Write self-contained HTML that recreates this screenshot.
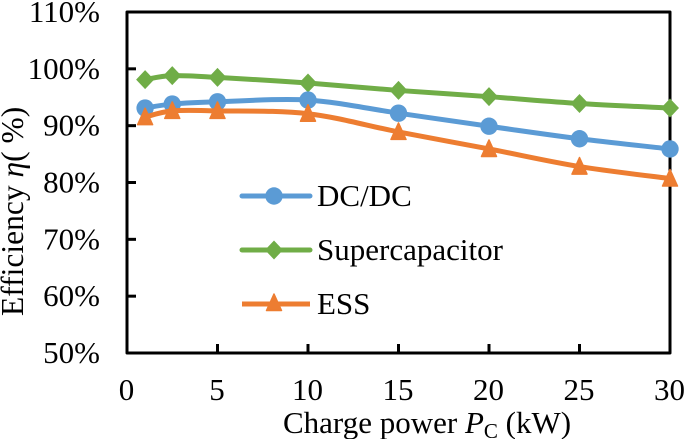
<!DOCTYPE html>
<html lang="en">
<head>
<meta charset="utf-8">
<title>Efficiency vs charge power</title>
<style>
html,body{margin:0;padding:0;background:#fff}
svg{display:block}
text{font-family:"Liberation Serif",serif;fill:#000}
</style>
</head>
<body>
<svg id="chart" width="685" height="439" viewBox="0 0 685 439" xmlns="http://www.w3.org/2000/svg"></svg>
<script>
const categories = [1, 2.5, 5, 10, 15, 20, 25, 30];
const dcdcValues = [93.1, 93.8, 94.2, 94.5, 92.2, 89.9, 87.7, 85.9];
const supercapValues = [98.1, 98.8, 98.5, 97.5, 96.2, 95.1, 93.9, 93.1];
const essValues = [91.5, 92.6, 92.6, 92.1, 88.9, 85.9, 82.8, 80.7];
const xTickLabels = [0, 5, 10, 15, 20, 25, 30];
const yTickLabels = [50, 60, 70, 80, 90, 100, 110];
const seriesNames = ["DC/DC", "Supercapacitor", "ESS"];

const svg = document.getElementById('chart');
const NS = 'http://www.w3.org/2000/svg';
const L = 127, R = 670, T = 12, B = 353;
const sx = v => L + (v - 0) / 30 * (R - L);
const sy = v => B - (v - 50) / 60 * (B - T);

function make(tag, attrs, parent) {
  const el = document.createElementNS(NS, tag);
  for (const k in attrs) el.setAttribute(k, attrs[k]);
  (parent || svg).appendChild(el);
  return el;
}

// smoothed line through points
function smoothPath(pts) {
  let d = 'M' + pts[0][0] + ' ' + pts[0][1];
  for (let i = 0; i < pts.length - 1; i++) {
    const p0 = pts[Math.max(i - 1, 0)], p1 = pts[i], p2 = pts[i + 1], p3 = pts[Math.min(i + 2, pts.length - 1)];
    const c1x = p1[0] + (p2[0] - p0[0]) / 6, c1y = p1[1] + (p2[1] - p0[1]) / 6;
    const c2x = p2[0] - (p3[0] - p1[0]) / 6, c2y = p2[1] - (p3[1] - p1[1]) / 6;
    d += ' C' + c1x + ' ' + c1y + ' ' + c2x + ' ' + c2y + ' ' + p2[0] + ' ' + p2[1];
  }
  return d;
}

function drawMarker(kind, x, y, color, parent) {
  if (kind === 'circle') {
    return make('circle', {cx: x, cy: y, r: 8.7, fill: color}, parent);
  }
  if (kind === 'diamond') {
    return make('polygon', {points: [[x, y - 9.5], [x + 9, y], [x, y + 9.5], [x - 9, y]].join(' '), fill: color, 'stroke-linejoin': 'round'}, parent);
  }
  return make('polygon', {points: [[x, y - 9], [x + 7.5, y + 7.5], [x - 7.5, y + 7.5]].join(' '), fill: color, stroke: color, 'stroke-width': 1.5, 'stroke-linejoin': 'round'}, parent);
}

// Axes frame
const frame = make('rect', {x: L, y: T, width: R - L, height: B - T, fill: 'none', stroke: '#000', 'stroke-width': 3, 'stroke-linejoin': 'round'});



// Ticks and tick labels
yTickLabels.forEach(v => {
  const y = sy(v);
  if (v > 50 && v < 110) {
    const t = make('line', {x1: L, x2: L + 9, y1: y, y2: y, stroke: '#000', 'stroke-width': 3});
    
    
  }
  const lab = make('text', {x: 100, y: y + 10, 'text-anchor': 'end', 'font-size': 31});
  lab.textContent = v + '%';
  
  
});
xTickLabels.forEach(v => {
  const x = sx(v);
  if (v > 0 && v < 30) {
    const t = make('line', {x1: x, x2: x, y1: B, y2: B - 9, stroke: '#000', 'stroke-width': 3});
    
    
  }
  const lab = make('text', {x: x - 0.5, y: 400, 'text-anchor': 'middle', 'font-size': 31});
  lab.textContent = v;
  
  
});

// Axis titles
const xTitle = make('text', {x: 283, y: 433, 'font-size': 31});


xTitle.innerHTML = 'Charge power <tspan font-style="italic">P</tspan><tspan font-size="21" dy="5">C</tspan><tspan dy="-5"> (kW)</tspan>';

const yTitle = make('text', {transform: 'translate(23,316) rotate(-90)', 'font-size': 31.5});


yTitle.innerHTML = 'Efficiency <tspan font-style="italic">η</tspan>( %)';

// Series
const seriesColors = {dcdc: '#5b9bd5', sc: '#70ad47', ess: '#ed7d31'};
function drawSeries(name, values, color, kind) {
  const g = make('g', {});
  
  
  const pts = categories.map((c, i) => [sx(c), sy(values[i])]);
  const line = make('path', {d: smoothPath(pts), fill: 'none', stroke: color, 'stroke-width': 5, 'stroke-linecap': 'round'}, g);
  
  
  pts.forEach(p => {
    const m = drawMarker(kind, p[0], p[1], color, g);
    
    
  });
}
drawSeries('supercapacitor', supercapValues, seriesColors.sc, 'diamond');
drawSeries('dc-dc', dcdcValues, seriesColors.dcdc, 'circle');
drawSeries('ess', essValues, seriesColors.ess, 'triangle');

// Legend
const legendColors = [seriesColors.dcdc, seriesColors.sc, seriesColors.ess];
const legendKinds = ['circle', 'diamond', 'triangle'];
const legendY = [196, 250, 304];
seriesNames.forEach((n, i) => {
  const g = make('g', {});
  
  
  const ln = make('line', {x1: 242, x2: 310, y1: legendY[i], y2: legendY[i], stroke: legendColors[i], 'stroke-width': 5, 'stroke-linecap': i === 2 ? 'butt' : 'round'}, g);
  
  
  const mk = drawMarker(legendKinds[i], 274, legendY[i] - (i === 2 ? 1 : 0), legendColors[i], g);
  
  
  const tx = make('text', {x: 317, y: legendY[i] + 10, 'font-size': 31}, g);
  tx.textContent = n;
  
  
});
</script>
</body>
</html>
